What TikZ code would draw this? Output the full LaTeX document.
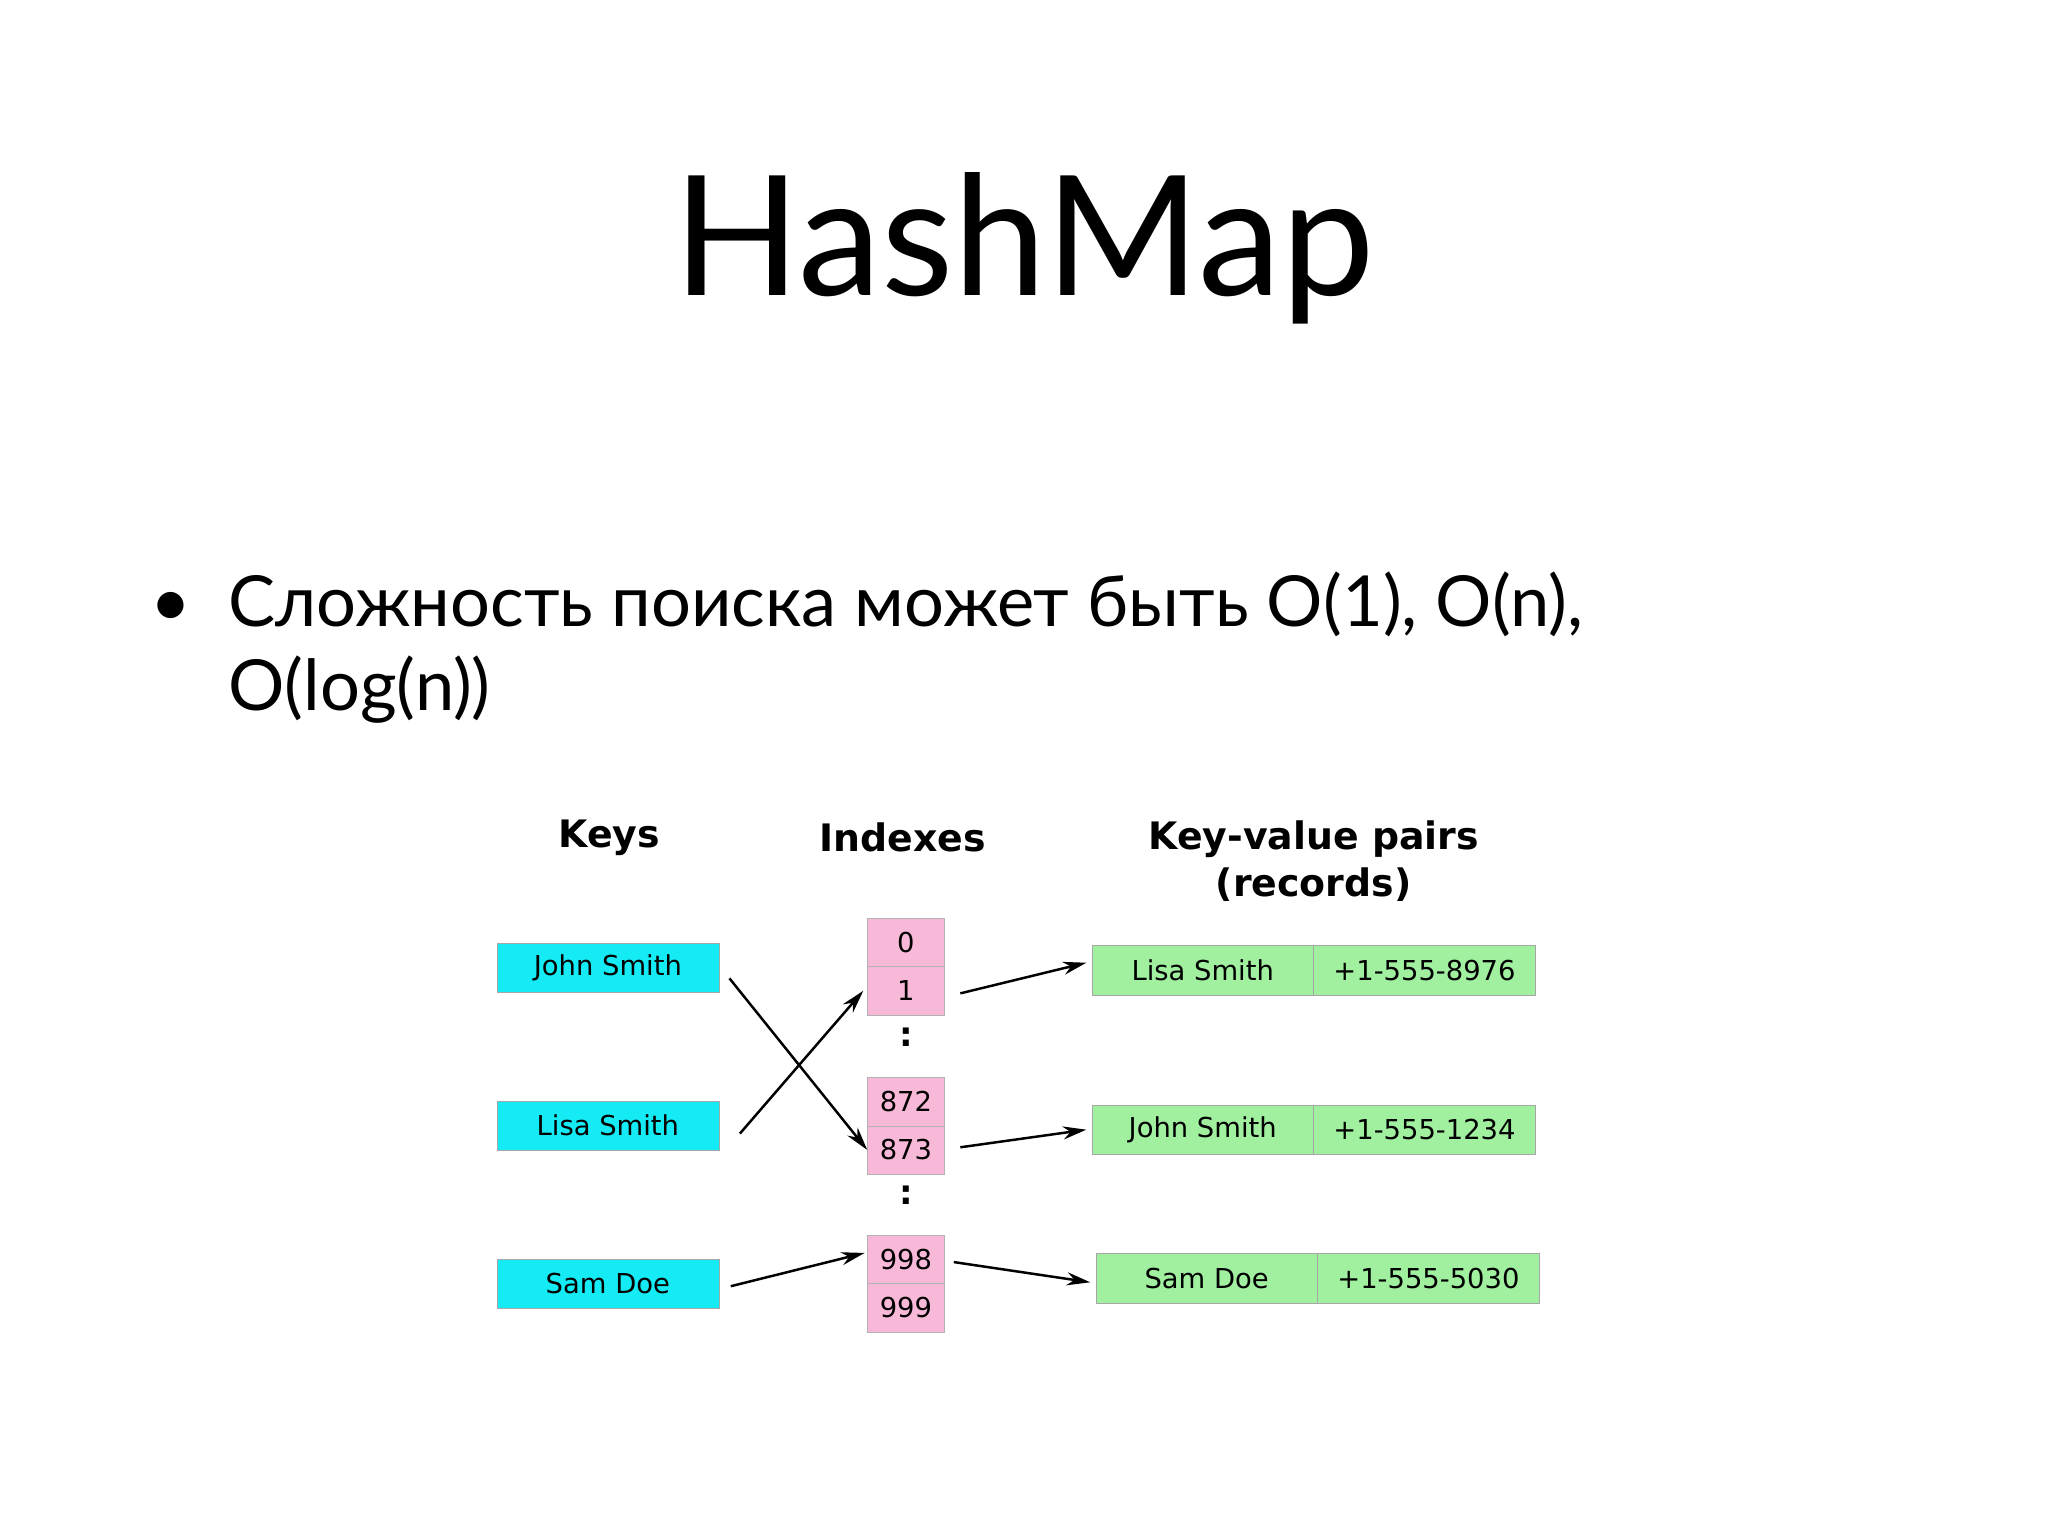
\documentclass[tikz,border=0pt]{standalone}
\usepackage{fontspec}
\setmainfont{Lato}
\newfontfamily\djfont{DejaVu Sans}
\usetikzlibrary{arrows.meta}
\definecolor{keyc}{RGB}{20,235,245}
\definecolor{idxc}{RGB}{248,184,216}
\definecolor{recc}{RGB}{160,240,160}
\begin{document}
\begin{tikzpicture}[x=1pt,y=-1pt,
  keybox/.style={draw=gray!70,fill=keyc,minimum width=170pt,minimum height=38pt,inner sep=0pt,font=\djfont\fontsize{21}{24}\selectfont},
  idx/.style={draw=gray!60,fill=idxc,minimum width=59pt,minimum height=37pt,inner sep=0pt,font=\djfont\fontsize{21}{24}\selectfont},
  rec/.style={draw=gray!70,fill=recc,minimum width=170pt,minimum height=38pt,inner sep=0pt,font=\djfont\fontsize{21}{24}\selectfont},
  hdr/.style={font=\djfont\bfseries\fontsize{29}{32}\selectfont,align=center},
  arr/.style={-{Stealth[length=18pt,width=10pt]},line width=1.9pt}]
\useasboundingbox (0,0) rectangle (1570,1177.5);
\node[font=\fontsize{128}{130}\selectfont] (title) at (785,190) {HashMap};
\node[anchor=base west,font=\fontsize{54}{64}\selectfont] (bul) at (112,480) {•};
\node[anchor=base west,font=\fontsize{54}{64}\selectfont,inner sep=0pt] (txt) at (175,480) {Сложность поиска может быть O(1), O(n),};
\node[anchor=base west,font=\fontsize{54}{64}\selectfont,inner sep=0pt] (txt2) at (175,545) {O(log(n))};
\node[hdr] (hk) at (467,642) {Keys};
\node[hdr] (hi) at (692,642) {Indexes};
\node[hdr,font=\djfont\bfseries\fontsize{29}{36}\selectfont] (hr) at (1007,660) {Key-value pairs\\(records)};
\node[keybox] (k1) at (466,742) {John Smith};
\node[keybox] (k2) at (466,863) {Lisa Smith};
\node[keybox] (k3) at (466,984) {Sam Doe};
\node[idx] (i0) at (694.5,722.5) {0};
\node[idx] (i1) at (694.5,759.5) {1};
\node[font=\djfont\bfseries\fontsize{26}{28}\selectfont] (d1) at (694.5,795) {:};
\node[idx] (i872) at (694.5,844.5) {872};
\node[idx] (i873) at (694.5,881.5) {873};
\node[font=\djfont\bfseries\fontsize{26}{28}\selectfont] (d2) at (694.5,916) {:};
\node[idx] (i998) at (694.5,965.5) {998};
\node[idx] (i999) at (694.5,1002.5) {999};
\node[rec] (r1) at (922,744) {Lisa Smith};
\node[rec] (p1) at (1092,744) {+1-555-8976};
\node[rec] (r2) at (922,866) {John Smith};
\node[rec] (p2) at (1092,866) {+1-555-1234};
\node[rec] (r3) at (925,980) {Sam Doe};
\node[rec] (p3) at (1095,980) {+1-555-5030};
\draw[arr] ([xshift=8pt,yshift=-8pt]k1.east) -- (i873.west);
\draw[arr] ([xshift=16pt,yshift=-6pt]k2.east) -- ([xshift=-3pt]i1.west);
\draw[arr] ([xshift=9pt,yshift=-2pt]k3.east) -- ([xshift=-2pt,yshift=5pt]i998.west);
\draw[arr] ([xshift=12pt,yshift=-2pt]i1.east) -- ([xshift=-4pt,yshift=6pt]r1.west);
\draw[arr] ([xshift=12pt,yshift=2pt]i873.east) -- ([xshift=-4pt]r2.west);
\draw[arr] ([xshift=7pt,yshift=-2pt]i998.east) -- ([xshift=-4pt,yshift=-3pt]r3.west);
\end{tikzpicture}
\end{document}
